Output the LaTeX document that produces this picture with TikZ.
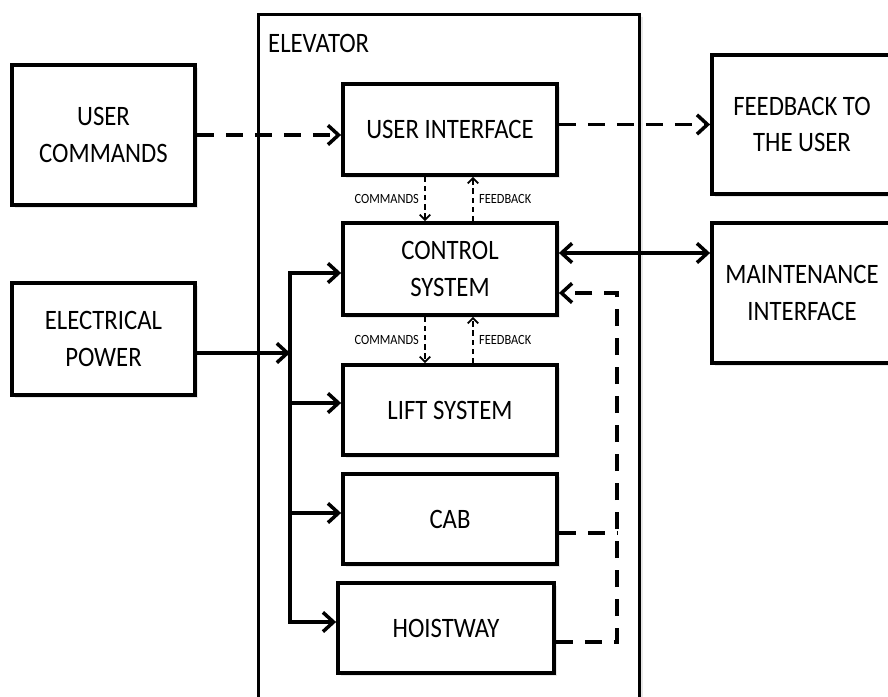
\documentclass[tikz,border=0pt]{standalone}
\usepackage{fontspec}
\setmainfont{Carlito}[FakeStretch=0.88]
\usetikzlibrary{arrows.meta,shadows}

\tikzset{
  blk/.style={draw, line width=2.2pt, fill=white, align=center,
    font=\fontsize{16}{21}\selectfont,
    drop shadow={opacity=0.18, shadow xshift=1.5pt, shadow yshift=-1.5pt}},
  lbl/.style={font=\fontsize{8}{9}\selectfont, inner sep=3pt},
  tip/.style={-{Straight Barb[length=6pt,width=11pt,line width=2pt]}},
  pwr/.style={line width=2.2pt, tip},
  dsh/.style={line width=2.2pt, dash pattern=on 10pt off 6.5pt, tip},
  fine/.style={line width=1pt, dash pattern=on 3pt off 2.2pt,
    -{Straight Barb[length=3pt,width=6pt,line width=1pt]}}
}

\begin{document}
\begin{tikzpicture}[x=0.02cm, y=-0.02cm]
\useasboundingbox (0,0) rectangle (888,696);

% outer frame
\node[draw, line width=1.7pt, minimum width=7.64cm, minimum height=13.9cm,
  drop shadow={opacity=0.18, shadow xshift=1.5pt, shadow yshift=-1.5pt}, fill=white] (elev) at (449,362) {};
\node[anchor=north west, font=\fontsize{16}{21}\selectfont] (elevtxt) at (262,28) {ELEVATOR};

% outside blocks
\node[blk, minimum width=3.66cm, minimum height=2.8cm] (ucmd) at (103.5,135) {USER\\COMMANDS};
\node[blk, minimum width=3.66cm, minimum height=2.24cm] (epow) at (103.5,339) {ELECTRICAL\\POWER};
\node[blk, minimum width=3.6cm, minimum height=2.78cm] (fbk) at (802,124.5) {FEEDBACK TO\\THE USER};
\node[blk, minimum width=3.6cm, minimum height=2.8cm] (mnt) at (802,293) {MAINTENANCE\\INTERFACE};

% blocks of the elevator
\node[blk, minimum width=4.28cm, minimum height=1.82cm] (ui) at (450,129.5) {USER INTERFACE};
\node[blk, minimum width=4.28cm, minimum height=1.84cm] (ctl) at (450,269) {CONTROL\\SYSTEM};
\node[blk, minimum width=4.28cm, minimum height=1.8cm] (lift) at (450,410) {LIFT SYSTEM};
\node[blk, minimum width=4.28cm, minimum height=1.8cm] (cab) at (450,519) {CAB};
\node[blk, minimum width=4.32cm, minimum height=1.8cm] (hst) at (446,628) {HOISTWAY};

% bus and return points
\coordinate (bt) at (290,273);
\coordinate (bl) at (290,403);
\coordinate (bc) at (290,513);
\coordinate (bb) at (290,622);
\coordinate (pw) at (290,353);
\coordinate (mm) at (635,253);
\coordinate (rt) at (617,293);
\coordinate (rc) at (617,533);
\coordinate (rh) at (617,642);

\draw[dsh] (ucmd.east) -- (ucmd.east -| ui.west);
\draw[dsh] (ui.east |- fbk) -- (fbk.west);
\draw[pwr, {Straight Barb[length=6pt,width=11pt,line width=2pt]}-{Straight Barb[length=6pt,width=11pt,line width=2pt]}]
  (ctl.east |- mm) -- (mnt.west |- mm);

\draw[pwr] (epow.east |- pw) -- (pw);
\draw[pwr, {Straight Barb[length=6pt,width=11pt,line width=2pt]}-{Straight Barb[length=6pt,width=11pt,line width=2pt]}]
  (ctl.west |- bt) -- (bt) -- (bb) -- (hst.west |- bb);
\draw[pwr] (bl) -- (lift.west |- bl);
\draw[pwr] (bc) -- (cab.west |- bc);

\draw[dsh] (hst.east |- rh) -- (rh) -- (rt) -- (ctl.east |- rt);
\draw[dsh, -] (cab.east |- rc) -- (rc);

\draw[fine] ([xshift=-0.5cm]ui.south) -- node[lbl, left] {COMMANDS} ([xshift=-0.5cm]ctl.north);
\draw[fine] ([xshift=0.46cm]ctl.north) -- node[lbl, right] {FEEDBACK} ([xshift=0.46cm]ui.south);
\draw[fine] ([xshift=-0.5cm]ctl.south) -- node[lbl, left] {COMMANDS} ([xshift=-0.5cm]lift.north);
\draw[fine] ([xshift=0.46cm]lift.north) -- node[lbl, right] {FEEDBACK} ([xshift=0.46cm]ctl.south);
\end{tikzpicture}
\end{document}
